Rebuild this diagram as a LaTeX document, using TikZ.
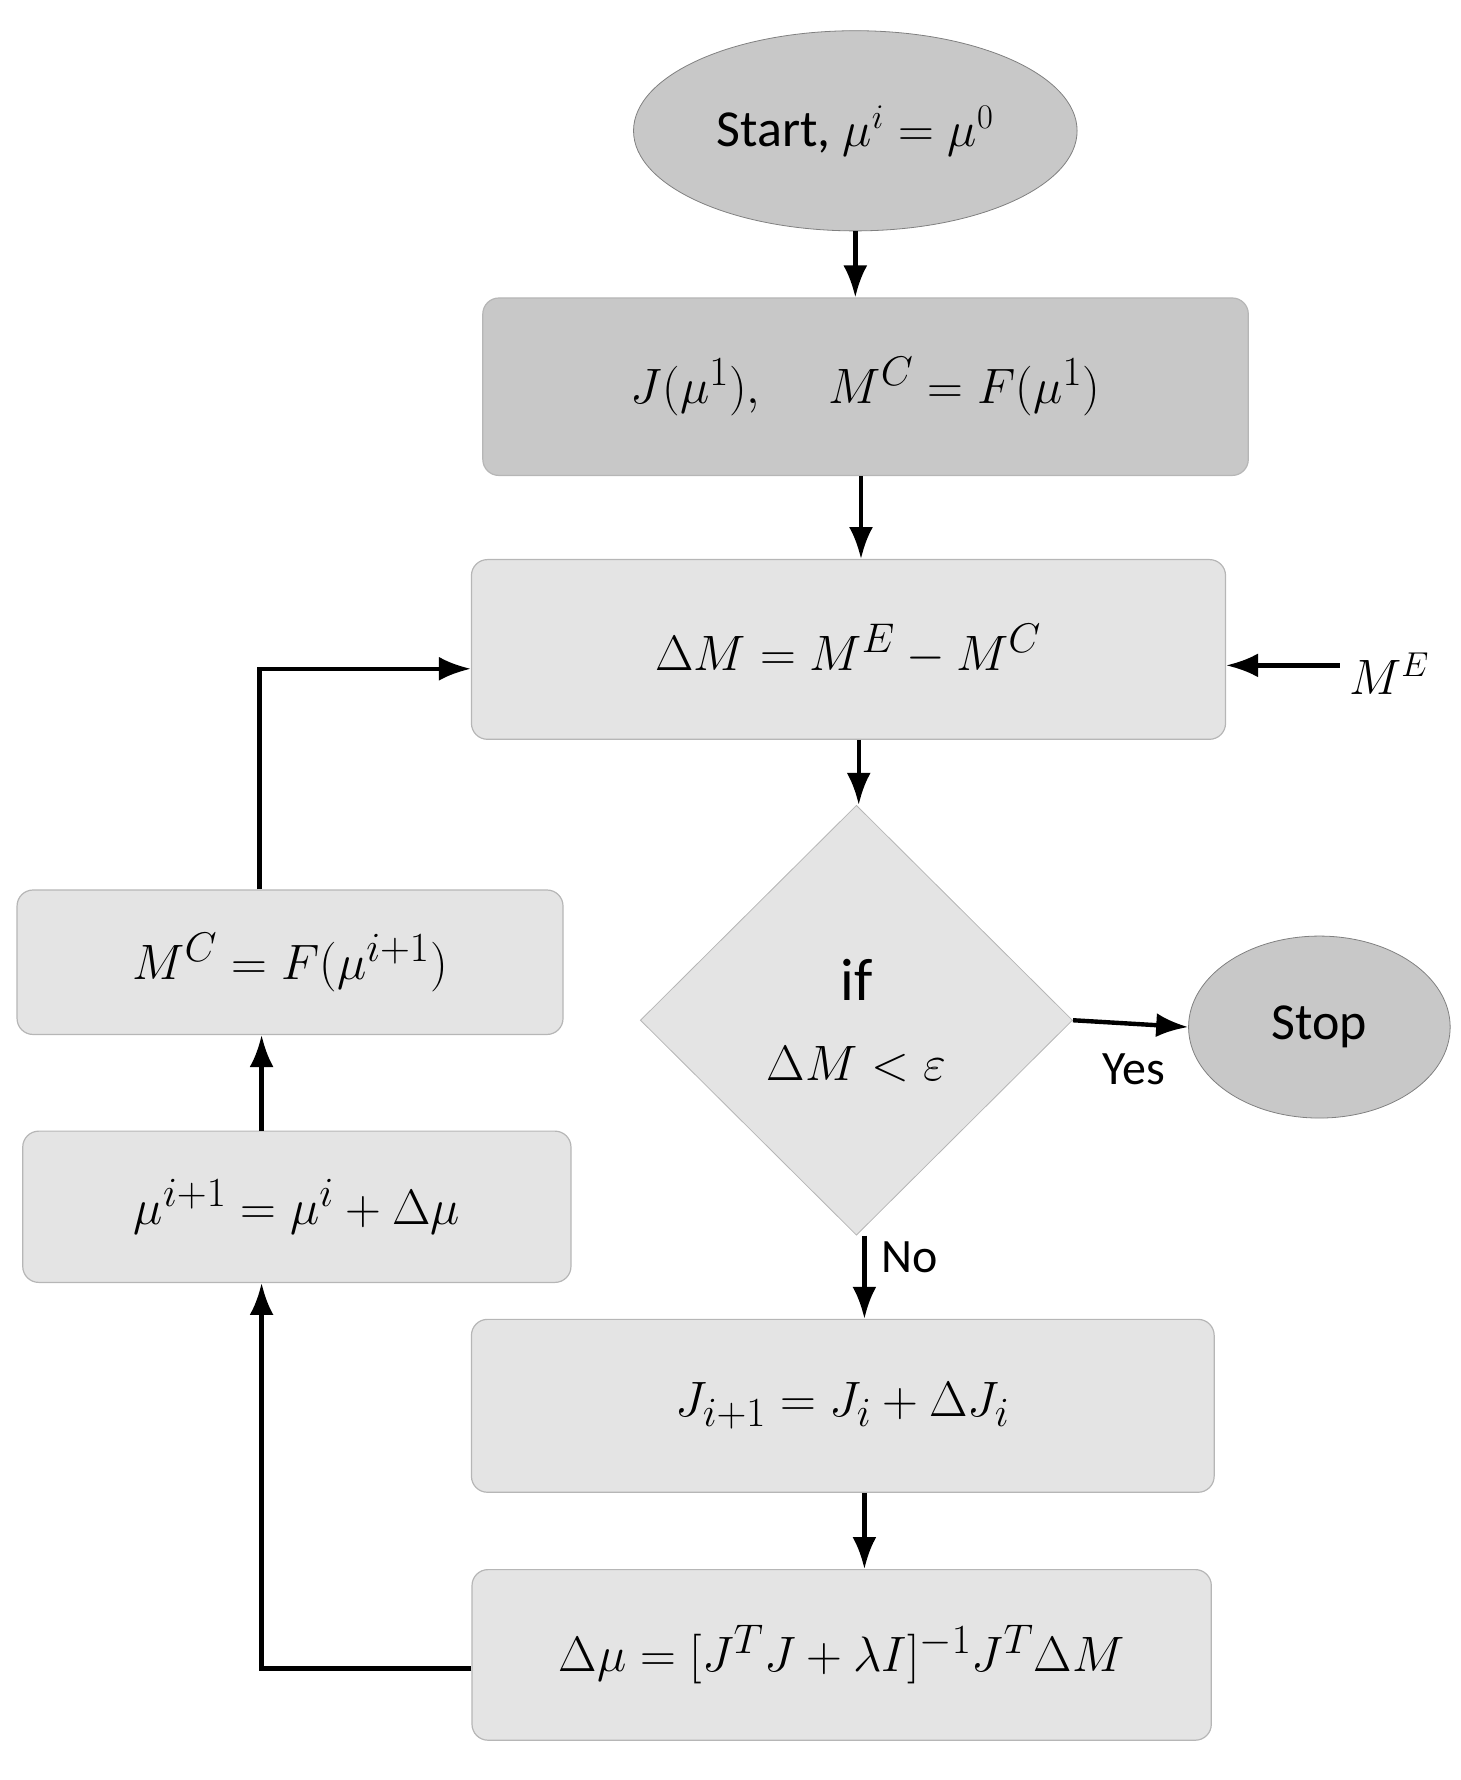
\documentclass[tikz,border=0pt]{standalone}
\usepackage{fontspec}
\setmainfont{Carlito}
\usetikzlibrary{shapes.geometric,arrows.meta}
\definecolor{lgray}{HTML}{E4E4E4}
\definecolor{dgray}{HTML}{C8C8C8}
\begin{document}
\begin{tikzpicture}[x=0.02cm,y=-0.02cm,
  box/.style={draw=lgray!80!black,line width=0.6pt,fill=lgray,rounded corners=8pt,inner sep=0pt,font=\fontsize{30}{36}\selectfont},
  oval/.style={ellipse,draw=gray,fill=dgray,inner sep=0pt,font=\fontsize{26}{32}\selectfont},
  arr/.style={-{Latex[length=16pt,width=12pt]},line width=2.2pt},
  lbl/.style={font=\fontsize{24}{28}\selectfont\rmfamily}]
\useasboundingbox (0,0) rectangle (1284,1565);
\node[oval,minimum width=390*0.02cm,minimum height=176*0.02cm] (start) at (752,115) {Start, $\mu^i=\mu^0$};
\node[box,fill=dgray,minimum width=673*0.02cm,minimum height=156*0.02cm] (b1) at (761,340) {$J(\mu^1),\quad M^C=F(\mu^1)$};
\node[box,minimum width=663*0.02cm,minimum height=158*0.02cm] (b2) at (746,571) {$\Delta M=M^E-M^C$};
\node[diamond,draw=lgray!80!black,fill=lgray,minimum width=380*0.02cm,minimum height=378*0.02cm,inner sep=0pt,align=center,font=\fontsize{30}{40}\selectfont] (d) at (753,897) {if\\$\Delta M<\varepsilon$};
\node[oval,minimum width=230*0.02cm,minimum height=160*0.02cm] (stop) at (1160,903) {Stop};
\node[box,minimum width=653*0.02cm,minimum height=152*0.02cm] (b3) at (741,1236) {$J_{i+1}=J_i+\Delta J_i$};
\node[box,minimum width=650*0.02cm,minimum height=150*0.02cm] (b4) at (740,1455) {$\Delta\mu=[J^TJ+\lambda I]^{-1}J^T\Delta M$};
\node[box,minimum width=482*0.02cm,minimum height=133*0.02cm] (b5) at (261,1061) {$\mu^{i+1}=\mu^i+\Delta\mu$};
\node[box,minimum width=480*0.02cm,minimum height=127*0.02cm] (b6) at (255,846) {$M^C=F(\mu^{i+1})$};
\coordinate (me) at (1178,585);
\node[lbl,anchor=west] (melbl) at (1180,592) {$M^E$};
\draw[arr] (me) -- (b2.east |- me);
\draw[arr] (start) -- (b1.north -| start);
\draw[arr] (b1.south -| 757,0) -- (b2.north -| 757,0);
\draw[arr] (b2.south -| 755,0) -- (d.north -| 755,0);
\draw[arr] (d.east) -- (stop.west);
\node[lbl] (yes) at (997,940) {Yes};
\draw[arr] (d.south -| 760,0) -- (b3.north -| 760,0);
\node[lbl] (no) at (800,1105) {No};
\draw[arr] (b3.south -| 760,0) -- (b4.north -| 760,0);
\draw[arr] (b4.west |- 0,1467) -| (b5.south -| 230,0);
\draw[arr] (b5.north -| 230,0) -- (b6.south -| 230,0);
\draw[arr] (b6.north -| 228,0) |- (b2.west |- 0,588);
\end{tikzpicture}
\end{document}
